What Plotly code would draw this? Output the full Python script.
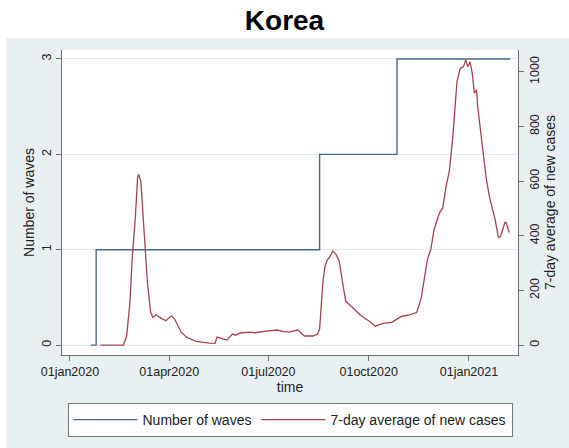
import plotly.graph_objects as go

# Number of identified waves (step series)
wave_dates = ["2020-01-20", "2020-01-25", "2020-08-17", "2020-10-27", "2021-02-08"]
wave_counts = [0, 1, 2, 3, 3]

# 7-day average of new cases
case_dates = [
    "2020-01-29", "2020-02-19", "2020-02-22", "2020-02-25", "2020-02-27", "2020-03-01",
    "2020-03-03", "2020-03-04", "2020-03-06", "2020-03-08", "2020-03-10", "2020-03-12",
    "2020-03-15", "2020-03-17", "2020-03-20", "2020-03-23", "2020-03-29", "2020-04-03",
    "2020-04-06", "2020-04-12", "2020-04-17", "2020-04-26", "2020-05-08", "2020-05-13",
    "2020-05-15", "2020-05-19", "2020-05-24", "2020-05-29", "2020-06-01", "2020-06-05",
    "2020-06-14", "2020-06-19", "2020-06-25", "2020-06-29", "2020-07-09", "2020-07-15",
    "2020-07-20", "2020-07-25", "2020-07-28", "2020-07-31", "2020-08-03", "2020-08-11",
    "2020-08-15", "2020-08-17", "2020-08-19", "2020-08-20", "2020-08-22", "2020-08-24",
    "2020-08-26", "2020-08-29", "2020-09-01", "2020-09-04", "2020-09-07", "2020-09-10",
    "2020-09-16", "2020-09-24", "2020-10-02", "2020-10-07", "2020-10-14", "2020-10-22",
    "2020-10-27", "2020-10-31", "2020-11-06", "2020-11-14", "2020-11-18", "2020-11-21",
    "2020-11-24", "2020-11-27", "2020-11-30", "2020-12-05", "2020-12-08", "2020-12-11",
    "2020-12-14", "2020-12-17", "2020-12-19", "2020-12-21", "2020-12-24", "2020-12-27",
    "2020-12-29", "2020-12-31", "2021-01-02", "2021-01-04", "2021-01-06", "2021-01-08",
    "2021-01-09", "2021-01-12", "2021-01-17", "2021-01-20", "2021-01-25", "2021-01-28",
    "2021-01-30", "2021-02-03", "2021-02-04", "2021-02-07",
]
case_values = [
    0, 0, 33, 157, 314, 471,
    613, 624, 600, 471, 350, 230,
    120, 101, 111, 102, 89, 107,
    95, 47, 29, 13, 7, 6,
    29, 24, 18, 40, 36, 44,
    47, 45, 47, 51, 55, 49,
    47, 51, 55, 44, 33, 33,
    40, 58, 157, 230, 289, 311,
    321, 343, 332, 307, 230, 160,
    138, 107, 86, 69, 79, 83,
    95, 105, 109, 119, 168, 241,
    314, 350, 423, 484, 502, 581,
    636, 752, 873, 964, 1013, 1019,
    1044, 1019, 1037, 995, 922, 934,
    873, 770, 606, 539, 460, 394,
    397, 449, 448, 412,
]

# Axis ticks
x_tick_dates = ["2020-01-01", "2020-04-01", "2020-07-01", "2020-10-01", "2021-01-01"]
x_tick_labels = ["01jan2020", "01apr2020", "01jul2020", "01oct2020", "01jan2021"]
left_ticks = [0, 1, 2, 3]
right_ticks = [0, 200, 400, 600, 800, 1000]

FONT = "Liberation Sans, Arial, sans-serif"
PANEL = "#E9F0F2"
AXIS = "#6E6E6E"
GRID = "#E3ECEE"

fig = go.Figure()
fig.add_trace(go.Scatter(
    x=wave_dates, y=wave_counts, mode="lines", line_shape="hv",
    line=dict(color="#46698F", width=1.4), name="Number of waves",
))
fig.add_trace(go.Scatter(
    x=case_dates, y=case_values, mode="lines", yaxis="y2",
    line=dict(color="#A8424B", width=1.3), name="7-day average of new cases",
))

# White band behind the title and at the left edge; the rest is the light panel
fig.add_shape(type="rect", xref="paper", yref="paper", x0=-0.3, x1=1.3,
              y0=1.0392, y1=1.4, fillcolor="white", line_width=0, layer="below")
fig.add_shape(type="rect", xref="paper", yref="paper", x0=-0.3, x1=-0.1228,
              y0=-0.5, y1=1.4, fillcolor="white", line_width=0, layer="below")

fig.update_layout(
    width=569, height=448,
    margin=dict(l=62, r=51, t=50, b=92),
    paper_bgcolor=PANEL, plot_bgcolor="white",
    font=dict(family=FONT, size=13, color="#222"),
    title=dict(text="<b>Korea</b>", x=0.5, xanchor="center", y=0.955, yanchor="middle",
               font=dict(family=FONT, size=28, color="black")),
    showlegend=True,
    legend=dict(orientation="h", x=0.5, xanchor="center", y=-0.1536, yanchor="top",
                bgcolor="white", bordercolor="#777", borderwidth=1,
                font=dict(family=FONT, size=14, color="#222"),
                itemwidth=64),
    xaxis=dict(
        range=["2019-12-24 16:00", "2021-02-15"],
        tickvals=x_tick_dates, ticktext=x_tick_labels,
        ticks="outside", ticklen=5, tickcolor=AXIS,
        showline=True, linecolor=AXIS, linewidth=1, showgrid=False, zeroline=False,
        tickfont=dict(size=12.5),
        title=dict(text="time", standoff=2, font=dict(size=14)),
    ),
    yaxis=dict(
        range=[-0.104, 3.094], tickvals=left_ticks, tickangle=-90,
        ticks="outside", ticklen=5, tickcolor=AXIS,
        showline=True, linecolor=AXIS, linewidth=1,
        showgrid=True, gridcolor=GRID, gridwidth=1, zeroline=False,
        tickfont=dict(size=12.5),
        title=dict(text="Number of waves", standoff=2, font=dict(size=14)),
    ),
    yaxis2=dict(
        range=[-36.5, 1080], tickvals=right_ticks, tickangle=-90,
        overlaying="y", side="right",
        ticks="outside", ticklen=5, tickcolor=AXIS,
        showline=True, linecolor=AXIS, linewidth=1,
        showgrid=False, zeroline=False,
        tickfont=dict(size=12.5),
        title=dict(text="7-day average of new cases", standoff=2, font=dict(size=14)),
    ),
)

fig.write_html("out.html")
